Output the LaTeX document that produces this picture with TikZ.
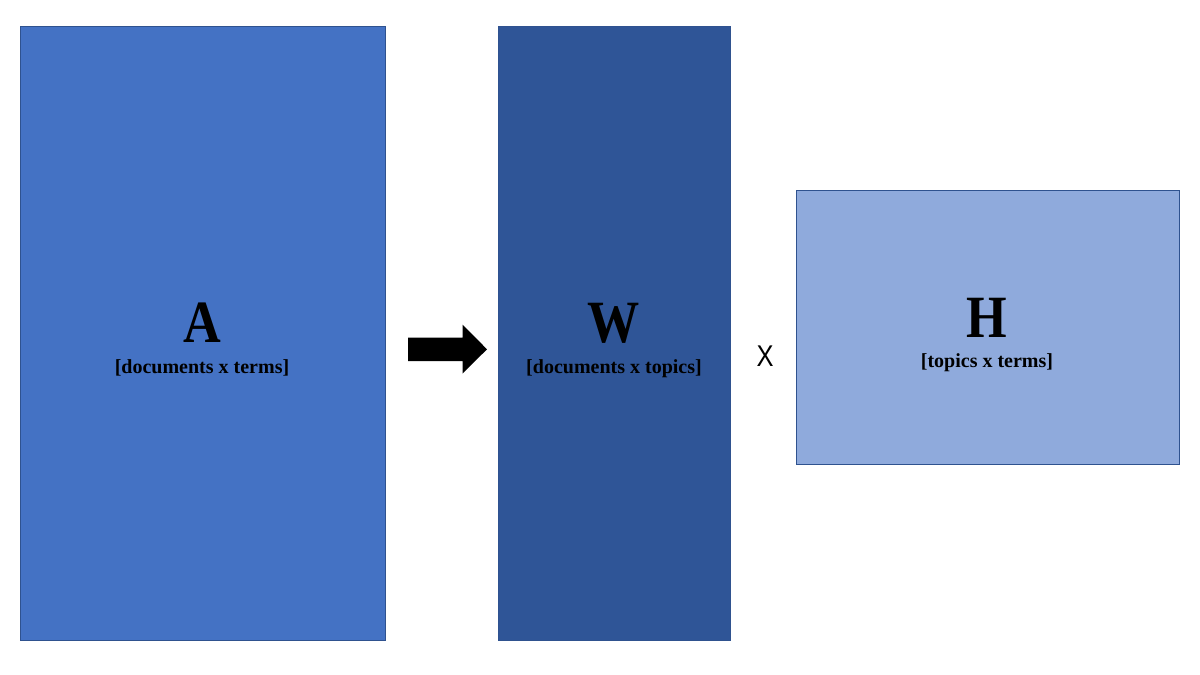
\documentclass[tikz,border=0pt]{standalone}
\usepackage{fontspec}
\setmainfont{Liberation Serif}
\newfontfamily\sansx{Liberation Sans}
\definecolor{cA}{HTML}{4472C4}
\definecolor{cW}{HTML}{2F5597}
\definecolor{cH}{HTML}{8FAADC}
\definecolor{cB}{HTML}{2F528F}
\begin{document}
\begin{tikzpicture}[x=1pt,y=-1pt,
  mat/.style={draw=cB,line width=0.8pt,inner sep=0pt,outer sep=0pt},
  big/.style={anchor=base,inner sep=0pt,font=\fontsize{60}{60}\selectfont\bfseries,xscale=0.87},
  sub/.style={anchor=base,inner sep=0pt,font=\fontsize{20}{22}\selectfont\bfseries}]
\useasboundingbox[fill=white] (0,0) rectangle (1200,675);
\filldraw[mat,fill=cA] (20,26) rectangle (385,640);
\filldraw[mat,fill=cW] (498,26) rectangle (730,640);
\filldraw[mat,fill=cH] (796,190) rectangle (1179,464);
\node[big] (a) at (202,342) {A};
\node[sub] (as) at (202,373) {[documents x terms]};
\node[big] (w) at (614,342) {W};
\node[sub] (ws) at (614,373) {[documents x topics]};
\node[big] (h) at (987,337) {H};
\node[sub] (hs) at (987,367) {[topics x terms]};
\node[anchor=base,inner sep=0pt,font=\sansx\fontsize{30}{30}\selectfont,xscale=0.85] (x) at (765,366) {X};
\fill[black] (408,337.5) -- (462.5,337.5) -- (462.5,324.5) -- (487,349.3) -- (462.5,373.5) -- (462.5,361) -- (408,361) -- cycle;
\end{tikzpicture}
\end{document}
